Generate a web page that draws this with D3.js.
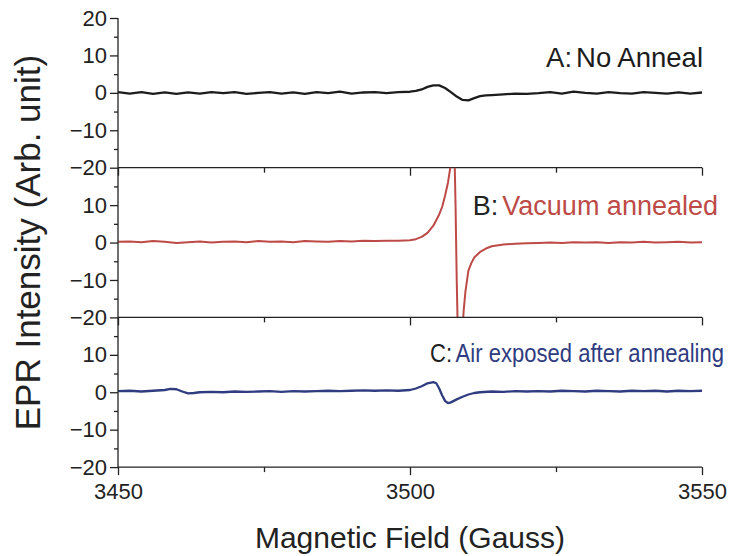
<!DOCTYPE html>
<html>
<head>
<meta charset="utf-8">
<script src="https://cdn.jsdelivr.net/npm/d3@7"></script>
<style>
  body { margin: 0; background: #fff; }
  svg { display: block; font-family: Arial, "Liberation Sans", sans-serif; }
</style>
</head>
<body>
<div id="chart"></div>
<script>
// valores (campo em Gauss, intensidade em u.a.)
const fieldA = [3450, 3452, 3454, 3456, 3458, 3460, 3462, 3464, 3466, 3468, 3470, 3472, 3474, 3476, 3478, 3480, 3482, 3484, 3486, 3488, 3490, 3492, 3494, 3496, 3498, 3500, 3501, 3502, 3503, 3504, 3505, 3506, 3507, 3508, 3509, 3510, 3511, 3512, 3513, 3514, 3516, 3518, 3520, 3522, 3524, 3526, 3528, 3530, 3532, 3534, 3536, 3538, 3540, 3542, 3544, 3546, 3548, 3550];
const intA   = [0.2, -0.2, 0.2, -0.3, 0.1, -0.3, 0.1, -0.2, 0.2, -0.1, 0.2, -0.3, 0.0, 0.2, -0.2, 0.1, -0.3, 0.2, -0.1, 0.3, -0.2, 0.1, 0.2, -0.1, 0.2, 0.3, 0.5, 0.9, 1.6, 2.0, 2.0, 1.3, 0.2, -1.0, -1.9, -2.0, -1.4, -0.9, -0.7, -0.6, -0.4, -0.2, -0.3, -0.1, 0.2, -0.2, 0.3, 0.0, -0.2, 0.2, -0.1, -0.2, 0.2, 0.0, -0.2, 0.1, -0.2, 0.1];

const fieldB = [3450, 3452, 3454, 3456, 3458, 3460, 3462, 3464, 3466, 3468, 3470, 3472, 3474, 3476, 3478, 3480, 3482, 3484, 3486, 3488, 3490, 3492, 3494, 3496, 3498, 3500, 3501, 3502, 3503, 3504, 3505, 3505.5, 3506, 3506.5, 3507, 3507.3, 3507.6, 3507.8, 3508.0, 3508.2, 3508.9, 3509.2, 3509.5, 3510, 3510.5, 3511, 3512, 3513, 3514, 3516, 3518, 3520, 3522, 3524, 3526, 3528, 3530, 3532, 3534, 3536, 3538, 3540, 3542, 3544, 3546, 3548, 3550];
const intB   = [0.2, 0.3, 0.1, 0.4, 0.2, -0.1, 0.1, 0.3, 0.0, 0.2, 0.3, 0.1, 0.4, 0.2, 0.3, 0.1, 0.4, 0.3, 0.2, 0.4, 0.3, 0.5, 0.4, 0.5, 0.5, 0.6, 0.9, 1.5, 2.6, 4.5, 7.5, 9.5, 12.5, 16, 21, 25, 25, 10, -10, -25, -25, -18, -13, -7.5, -5.5, -4, -2.5, -1.6, -1.0, -0.5, -0.3, -0.2, -0.1, 0.0, -0.1, 0.1, 0.0, 0.1, -0.1, 0.1, 0.0, 0.2, 0.0, 0.1, 0.2, 0.0, 0.1];

const fieldC = [3450, 3452, 3454, 3456, 3458, 3459, 3460, 3461, 3462, 3463, 3464, 3466, 3468, 3470, 3472, 3474, 3476, 3478, 3480, 3482, 3484, 3486, 3488, 3490, 3492, 3494, 3496, 3498, 3500, 3501, 3502, 3503, 3504, 3504.5, 3505, 3505.5, 3506, 3506.5, 3507, 3508, 3509, 3510, 3511, 3512, 3514, 3516, 3518, 3520, 3522, 3524, 3526, 3528, 3530, 3532, 3534, 3536, 3538, 3540, 3542, 3544, 3546, 3548, 3550];
const intC   = [0.3, 0.4, 0.2, 0.4, 0.6, 0.9, 0.8, 0.2, -0.3, -0.2, 0.0, 0.1, 0.0, 0.2, 0.1, 0.2, 0.3, 0.1, 0.3, 0.2, 0.3, 0.4, 0.3, 0.4, 0.5, 0.4, 0.5, 0.4, 0.6, 1.0, 1.6, 2.4, 2.7, 2.4, 1.0, -0.8, -2.3, -2.9, -2.7, -1.9, -1.2, -0.6, -0.2, 0.0, 0.2, 0.1, 0.3, 0.2, 0.3, 0.2, 0.4, 0.3, 0.2, 0.4, 0.3, 0.2, 0.4, 0.3, 0.4, 0.2, 0.4, 0.3, 0.4];

const panelNames  = ["A", "B", "C"];
const panelLabels = ["No Anneal", "Vacuum annealed", "Air exposed after annealing"];
const panelColors = ["#1c1c1c", "#bd4a46", "#2f3c80"];
const xTicks = [3450, 3500, 3550];
const xMinor = [3475, 3525];
const yTicksTop = [-20, -10, 0, 10, 20];
const yTicks = [-20, -10, 0, 10];
const yMinor = [-15, -5, 5, 15];

const series = [
  fieldA.map((f, i) => [f, intA[i]]),
  fieldB.map((f, i) => [f, intB[i]]),
  fieldC.map((f, i) => [f, intC[i]])
];

const width = 730, height = 556;
const left = 118, right = 702, top0 = 18, panelH = 149.7;
const axisCol = "#222";

const svg = d3.select("#chart").append("svg")
  .attr("width", width)
  .attr("height", height)
  .attr("viewBox", `0 0 ${width} ${height}`);

const x = d3.scaleLinear().domain([3450, 3550]).range([left, right]);

panelNames.forEach((name, i) => {
  const pTop = top0 + i * panelH;
  const pBot = pTop + panelH;
  const y = d3.scaleLinear().domain([-20, 20]).range([pBot, pTop]);

  // recorte para o sinal B que sai do painel
  svg.append("clipPath").attr("id", "clip" + i)
    .append("rect").attr("x", left).attr("y", pTop).attr("width", right - left).attr("height", panelH);

  const line = d3.line().x(d => x(d[0])).y(d => y(d[1]));
  svg.append("path")
    .datum(series[i])
    .attr("clip-path", `url(#clip${i})`)
    .attr("fill", "none")
    .attr("stroke", panelColors[i])
    .attr("stroke-width", i === 1 ? 2 : 2.3)
    .attr("stroke-linejoin", "round")
    .attr("d", line);

  // eixo y
  const gy = svg.append("g").attr("transform", `translate(${left},0)`)
    .call(d3.axisLeft(y).tickValues(i === 0 ? yTicksTop : yTicks).tickSize(8).tickPadding(3).tickFormat(d3.format("d")));
  gy.selectAll(".tick text").attr("font-size", 22).attr("fill", axisCol).attr("font-family", "Arial, 'Liberation Sans', sans-serif");
  gy.select(".domain").remove();
  gy.selectAll(".tick line").attr("stroke", axisCol).attr("stroke-width", 1.3);
  svg.append("g").attr("transform", `translate(${left},0)`)
    .call(d3.axisLeft(y).tickValues(yMinor).tickSize(4).tickFormat(""))
    .call(g => g.select(".domain").remove())
    .selectAll(".tick line").attr("stroke", axisCol).attr("stroke-width", 1.3);
  svg.append("line")
    .attr("x1", left).attr("x2", left).attr("y1", pTop).attr("y2", pBot)
    .attr("stroke", axisCol).attr("stroke-width", 1.3);

  // eixo x em baixo de cada painel
  const gx = svg.append("g").attr("transform", `translate(0,${pBot})`)
    .call(d3.axisBottom(x).tickValues(xTicks).tickSize(8).tickPadding(8)
      .tickFormat(i === 2 ? d3.format("d") : ""));
  gx.select(".domain").attr("stroke", axisCol).attr("stroke-width", 1.3).attr("d", `M${left},0H${right}`);
  gx.selectAll(".tick line").attr("stroke", axisCol).attr("stroke-width", 1.3);
  gx.selectAll(".tick text").attr("font-size", 22).attr("fill", axisCol).attr("font-family", "Arial, 'Liberation Sans', sans-serif");
  svg.append("g").attr("transform", `translate(0,${pBot})`)
    .call(d3.axisBottom(x).tickValues(xMinor).tickSize(5).tickFormat(""))
    .call(g => g.select(".domain").remove())
    .selectAll(".tick line").attr("stroke", axisCol).attr("stroke-width", 1.3);
});

// rótulos dos painéis (o C vem comprimido na horizontal)
const labelPos = [
  { x: 703, y: 67, size: 27.5, sx: 1 },
  { x: 718, y: 215, size: 27, sx: 1 },
  { x: 724, y: 362, size: 25.5, sx: 0.865 }
];
panelNames.forEach((name, i) => {
  const p = labelPos[i];
  const t = svg.append("text")
    .attr("transform", `translate(${p.x},${p.y}) scale(${p.sx},1)`)
    .attr("text-anchor", "end")
    .attr("font-size", p.size);
  t.append("tspan").attr("fill", "#222").text(name + ":");
  t.append("tspan").attr("dx", 4).attr("fill", panelColors[i]).text(panelLabels[i]);
});

// títulos dos eixos
svg.append("text")
  .attr("x", (left + right) / 2).attr("y", 548)
  .attr("text-anchor", "middle")
  .attr("font-size", 30)
  .attr("fill", "#222")
  .text("Magnetic Field (Gauss)");

svg.append("text")
  .attr("transform", `translate(40,${top0 + 1.5 * panelH}) rotate(-90)`)
  .attr("text-anchor", "middle")
  .attr("font-size", 35)
  .attr("fill", "#222")
  .text("EPR Intensity (Arb. unit)");
</script>
</body>
</html>
